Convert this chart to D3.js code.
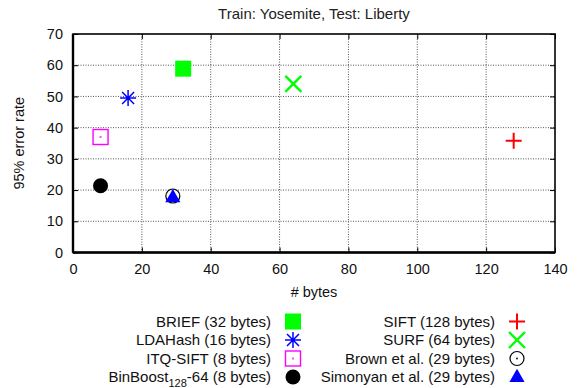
<!DOCTYPE html>
<html>
<head>
<meta charset="utf-8">
<script src="https://cdn.jsdelivr.net/npm/d3@7"></script>
<style>
  html, body { margin: 0; padding: 0; background: #fff; }
  svg { display: block; font-family: "Liberation Sans", Arial, sans-serif; }
</style>
</head>
<body>
<svg id="chart" width="580" height="388"></svg>
<script>
// Descriptor size (bytes) vs. 95% error rate
const names  = ["BRIEF", "LDAHash", "ITQ-SIFT", "BinBoost", "SIFT", "SURF", "Brown et al.", "Simonyan et al."];
const labels = ["BRIEF (32 bytes)", "LDAHash (16 bytes)", "ITQ-SIFT (8 bytes)", "BinBoost_128-64 (8 bytes)",
                "SIFT (128 bytes)", "SURF (64 bytes)", "Brown et al. (29 bytes)", "Simonyan et al. (29 bytes)"];
const bytes  = [32, 16, 8, 8, 128, 64, 29, 29];
const errors = [58.9, 49.5, 37.0, 21.4, 35.8, 54.0, 18.1, 17.7];
const colors = ["#00ff00", "#0000ff", "#ff00ff", "#000000", "#ff0000", "#00ff00", "#000000", "#0000ff"];
const symbols = ["fsquare", "asterisk", "osquare", "fcircle", "plus", "cross", "ocircle", "ftriangle"];
const xTicks = [0, 20, 40, 60, 80, 100, 120, 140];
const yTicks = [0, 10, 20, 30, 40, 50, 60, 70];

const FS = 15;
const svg = d3.select("#chart");
const x = d3.scaleLinear().domain([0, 140]).range([73, 555]);
const y = d3.scaleLinear().domain([0, 70]).range([252.5, 34]);

// title
svg.append("text").attr("x", 314).attr("y", 18.5).attr("text-anchor", "middle")
  .attr("font-size", FS).attr("fill", "#222").text("Train: Yosemite, Test: Liberty");

// grid
const grid = svg.append("g");
grid.selectAll("line.gx").data(xTicks.slice(1, -1)).join("line")
  .attr("x1", d => x(d)).attr("x2", d => x(d)).attr("y1", y(0)).attr("y2", y(70))
  .attr("stroke", "#555").attr("stroke-width", 1).attr("stroke-dasharray", "1,1.5");
grid.selectAll("line.gy").data(yTicks.slice(1, -1)).join("line")
  .attr("x1", x(0)).attr("x2", x(140)).attr("y1", d => y(d)).attr("y2", d => y(d))
  .attr("stroke", "#555").attr("stroke-width", 1).attr("stroke-dasharray", "1,1.5");

// axes
const xAxis = svg.append("g").attr("transform", `translate(0,${y(0)})`)
  .call(d3.axisBottom(x).tickValues(xTicks).tickSize(-5).tickPadding(11));
const yAxis = svg.append("g").attr("transform", `translate(${x(0)},0)`)
  .call(d3.axisLeft(y).tickValues(yTicks).tickSize(-5).tickPadding(10));
const xAxisTop = svg.append("g").attr("transform", `translate(0,${y(70)})`)
  .call(d3.axisTop(x).tickValues(xTicks).tickSize(-5).tickFormat(""));
const yAxisRight = svg.append("g").attr("transform", `translate(${x(140)},0)`)
  .call(d3.axisRight(y).tickValues(yTicks).tickSize(-5).tickFormat(""));
[xAxis, yAxis, xAxisTop, yAxisRight].forEach(g => {
  g.select(".domain").remove();
  g.selectAll(".tick line").attr("stroke", "#000").attr("stroke-width", 1);
  g.selectAll(".tick text").attr("font-size", FS - 0.5).attr("fill", "#111")
    .attr("font-family", "Liberation Sans, Arial, sans-serif");
});

// border
svg.append("rect").attr("x", x(0)).attr("y", y(70))
  .attr("width", x(140) - x(0)).attr("height", y(0) - y(70))
  .attr("fill", "none").attr("stroke", "#000").attr("stroke-width", 1.6);
svg.append("line").attr("x1", x(0)).attr("x2", x(0)).attr("y1", y(70)).attr("y2", y(0))
  .attr("stroke", "#000").attr("stroke-width", 2.4);
svg.append("line").attr("x1", x(0)).attr("x2", x(140)).attr("y1", y(0)).attr("y2", y(0))
  .attr("stroke", "#000").attr("stroke-width", 2.4);

// axis titles
svg.append("text").attr("transform", `translate(24,${(y(0) + y(70)) / 2}) rotate(-90)`)
  .attr("text-anchor", "middle").attr("font-size", FS - 0.5).attr("fill", "#111").text("95% error rate");
svg.append("text").attr("x", (x(0) + x(140)) / 2).attr("y", 297).attr("text-anchor", "middle")
  .attr("font-size", FS - 0.5).attr("fill", "#111").text("# bytes");

// point symbols
function drawSymbol(g, kind, cx, cy, color) {
  const s = 8;
  if (kind === "fsquare") {
    g.append("rect").attr("x", cx - s).attr("y", cy - s).attr("width", 2 * s).attr("height", 2 * s).attr("fill", color);
  } else if (kind === "osquare") {
    g.append("rect").attr("x", cx - s + 0.5).attr("y", cy - s + 0.5).attr("width", 2 * s - 1).attr("height", 2 * s - 1)
      .attr("fill", "none").attr("stroke", color).attr("stroke-width", 1.4);
    g.append("rect").attr("x", cx - 1).attr("y", cy - 1).attr("width", 2).attr("height", 2).attr("fill", color).attr("opacity", 0.7);
  } else if (kind === "asterisk") {
    const p = d3.path();
    p.moveTo(cx - s, cy); p.lineTo(cx + s, cy);
    p.moveTo(cx, cy - s); p.lineTo(cx, cy + s);
    p.moveTo(cx - s * 0.75, cy - s * 0.75); p.lineTo(cx + s * 0.75, cy + s * 0.75);
    p.moveTo(cx - s * 0.75, cy + s * 0.75); p.lineTo(cx + s * 0.75, cy - s * 0.75);
    g.append("path").attr("d", p.toString()).attr("stroke", color).attr("stroke-width", 1.5).attr("fill", "none");
    g.append("circle").attr("cx", cx).attr("cy", cy).attr("r", 1.6).attr("fill", color);
  } else if (kind === "fcircle") {
    g.append("circle").attr("cx", cx).attr("cy", cy).attr("r", 7.5).attr("fill", color);
  } else if (kind === "ocircle") {
    g.append("circle").attr("cx", cx).attr("cy", cy).attr("r", 7).attr("fill", "none")
      .attr("stroke", color).attr("stroke-width", 1.2);
    g.append("circle").attr("cx", cx).attr("cy", cy).attr("r", 0.9).attr("fill", color);
  } else if (kind === "ftriangle") {
    const t = d3.symbol().type(d3.symbolTriangle).size(100);
    g.append("path").attr("d", t()).attr("transform", `translate(${cx},${cy + 0.5})`).attr("fill", color);
  } else if (kind === "plus") {
    const p = d3.path();
    p.moveTo(cx - s, cy); p.lineTo(cx + s, cy);
    p.moveTo(cx, cy - s); p.lineTo(cx, cy + s);
    g.append("path").attr("d", p.toString()).attr("stroke", color).attr("stroke-width", 2).attr("fill", "none");
  } else if (kind === "cross") {
    const p = d3.path();
    p.moveTo(cx - s, cy - s); p.lineTo(cx + s, cy + s);
    p.moveTo(cx - s, cy + s); p.lineTo(cx + s, cy - s);
    g.append("path").attr("d", p.toString()).attr("stroke", color).attr("stroke-width", 2.4).attr("fill", "none");
  }
}

const pts = svg.append("g");
d3.range(names.length).forEach(i => {
  drawSymbol(pts.append("g").attr("class", "pt-" + i), symbols[i], x(bytes[i]), y(errors[i]), colors[i]);
});

// legend: two columns of four entries
const legend = svg.append("g");
const rowY = [321.5, 340, 358.5, 377];
d3.range(labels.length).forEach(i => {
  const col = Math.floor(i / 4), row = i % 4;
  const tx = col === 0 ? 271 : 495;
  const mx = col === 0 ? 293 : 517;
  const cy = rowY[row];
  const t = legend.append("text").attr("x", tx).attr("y", cy + 5).attr("text-anchor", "end")
    .attr("font-size", FS).attr("fill", "#111");
  const parts = labels[i].split("_");
  if (parts.length === 1) {
    t.text(labels[i]);
  } else {
    const rest = parts[1].split("-");
    t.append("tspan").text(parts[0]);
    t.append("tspan").attr("font-size", 11).attr("dy", 4.5).text(rest[0]);
    t.append("tspan").attr("dy", -4.5).text("-" + rest.slice(1).join("-"));
  }
  drawSymbol(legend.append("g"), symbols[i], mx, cy, colors[i]);
});
</script>
</body>
</html>
